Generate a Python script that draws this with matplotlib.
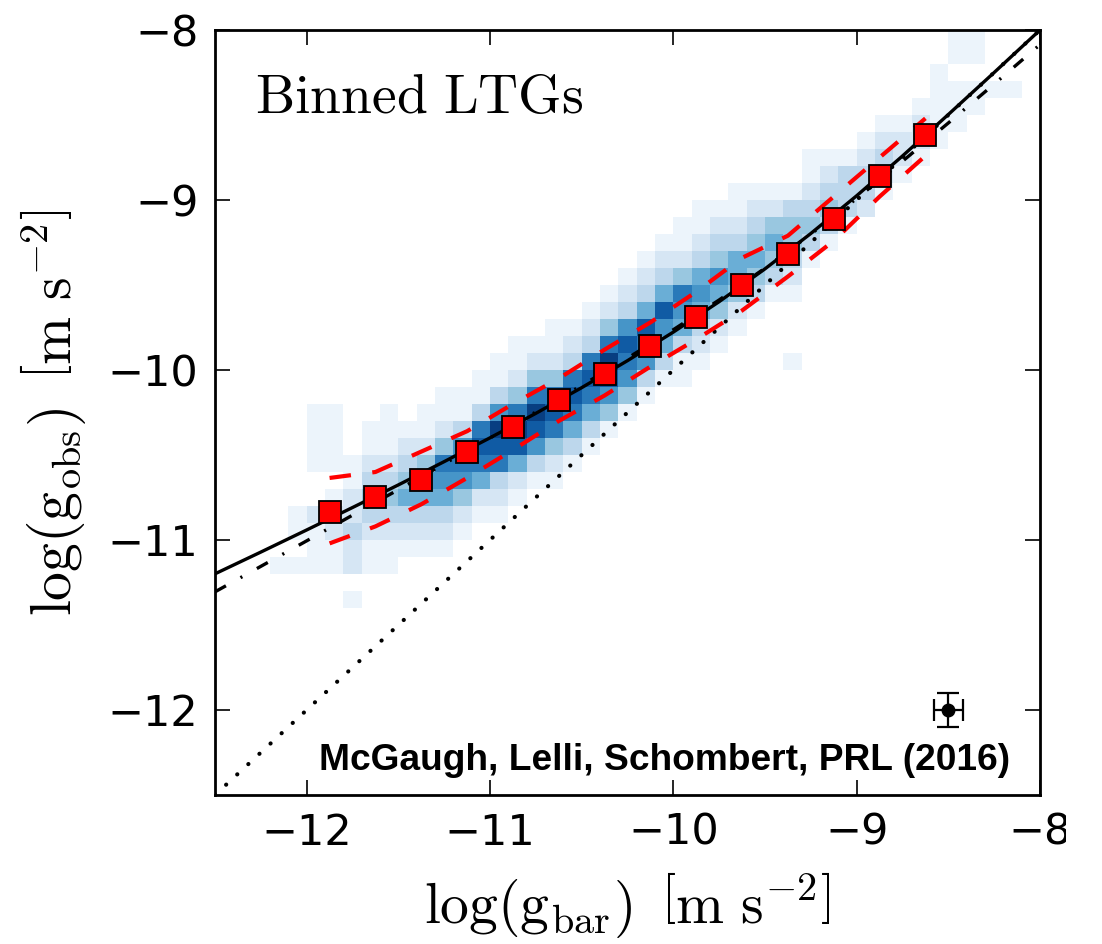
import numpy as np
import matplotlib
matplotlib.use('Agg')
import matplotlib.pyplot as plt
from matplotlib.patches import Rectangle

plt.rcParams['mathtext.fontset'] = 'cm'
plt.rcParams['font.family'] = ['DejaVu Sans']
plt.rcParams['lines.scale_dashes'] = False

# ---------------- data ----------------
bin_x = [-11.875, -11.625, -11.375, -11.125, -10.875, -10.625, -10.375,
         -10.125, -9.875, -9.625, -9.375, -9.125, -8.875, -8.625]
bin_mean = [-10.835, -10.747, -10.647, -10.482, -10.335, -10.176, -10.024,
            -9.859, -9.688, -9.500, -9.318, -9.112, -8.859, -8.618]
bin_upper = [-10.635, -10.60, -10.48, -10.36, -10.20, -10.05, -9.88,
             -9.72, -9.54, -9.34, -9.21, -8.98, -8.75, -8.52]
bin_lower = [-11.02, -10.92, -10.79, -10.635, -10.47, -10.30, -10.15,
             -9.98, -9.82, -9.65, -9.45, -9.24, -8.98, -8.74]

curve_x = [-12.5, -12.25, -12.0, -11.75, -11.5, -11.25, -11.0, -10.75, -10.5,
           -10.25, -10.0, -9.75, -9.5, -9.25, -9.0, -8.75, -8.5, -8.25, -8.0]
curve_solid = [-11.199, -11.071, -10.941, -10.809, -10.676, -10.539, -10.399,
               -10.255, -10.104, -9.945, -9.777, -9.598, -9.405, -9.197,
               -8.975, -8.741, -8.497, -8.250, -8.000]
curve_dashdot = [-11.305, -11.155, -11.005, -10.854, -10.704, -10.552, -10.400,
                 -10.247, -10.091, -9.930, -9.763, -9.588, -9.401, -9.201,
                 -8.991, -8.772, -8.547, -8.318, -8.086]
unity_x = [-12.5, -8.0]

err_x, err_y = -8.5, -12.0
err_dx, err_dy = 0.08, 0.10

# 2D histogram: per column (x bin start), lowest y bin start, levels bottom->top
hist_cols = {
    -12.2: (-11.2, "1"),
    -12.1: (-11.2, "1011"),
    -12.0: (-11.2, "1112001111"),
    -11.9: (-11.2, "1122101111"),
    -11.8: (-11.4, "102232211"),
    -11.7: (-11.2, "112343211"),
    -11.6: (-11.2, "1123432111"),
    -11.5: (-11.1, "12354321"),
    -11.4: (-11.1, "123564211"),
    -11.3: (-11.1, "1235674211"),
    -11.2: (-11.0, "124676311"),
    -11.1: (-10.9, "125787311"),
    -11.0: (-10.9, "1237896311"),
    -10.9: (-10.8, "1258974211"),
    -10.8: (-10.7, "136897421"),
    -10.7: (-10.7, "1247874211"),
    -10.6: (-10.6, "135787321"),
    -10.5: (-10.5, "135787321"),
    -10.4: (-10.4, "146897421"),
    -10.3: (-10.3, "146786321"),
    -10.2: (-10.2, "136785321"),
    -10.1: (-10.1, "135685321"),
    -10.0: (-10.1, "1135674211"),
    -9.9: (-10.0, "1235653211"),
    -9.8: (-9.9, "124564321"),
    -9.7: (-9.8, "124553211"),
    -9.6: (-9.7, "13454321"),
    -9.5: (-9.6, "1345421"),
    -9.4: (-10.0, "10001234431"),
    -9.3: (-9.4, "1343211"),
    -9.2: (-9.3, "134321"),
    -9.1: (-9.2, "13331"),
    -9.0: (-9.1, "23321"),
    -8.9: (-9.0, "12321"),
    -8.8: (-8.9, "1221"),
    -8.7: (-8.8, "1221"),
    -8.6: (-8.7, "11111"),
    -8.5: (-8.6, "111011"),
    -8.4: (-8.5, "11011"),
    -8.3: (-8.4, "1"),
    -8.2: (-8.4, "1"),
}
hist_step = 0.1

# ---------------- figure ----------------
W, H = 1102, 944
fig = plt.figure(figsize=(W / 100, H / 100), dpi=100)
ax = fig.add_axes([215 / W, 1 - 795 / H, 825 / W, 765 / H])

# build histogram grid
xe = np.round(np.arange(-12.5, -8.0 + 1e-9, hist_step), 2)
ye = np.round(np.arange(-12.5, -8.0 + 1e-9, hist_step), 2)
grid = np.zeros((len(ye) - 1, len(xe) - 1))
for xs, (ys, levels) in hist_cols.items():
    ix = int(round((xs - xe[0]) / hist_step))
    iy0 = int(round((ys - ye[0]) / hist_step))
    for k, ch in enumerate(levels):
        grid[iy0 + k, ix] = int(ch)
grid = np.ma.masked_where(grid <= 0, grid)
ax.pcolormesh(xe, ye, grid, cmap='Blues', vmin=0.5, vmax=9.5,
              edgecolors='none', zorder=1)

# lines
ax.plot(unity_x, unity_x, color='black', lw=3.0, solid_capstyle='round',
        dash_capstyle='round', linestyle=(0, (0.1, 10.8)), zorder=2)
ax.plot(curve_x, curve_dashdot, color='black', lw=2.4,
        linestyle=(0, (9, 12, 1.5, 12)), zorder=2)
ax.plot(curve_x, curve_solid, color='black', lw=2.4, zorder=3)
ax.plot(bin_x, bin_upper, color='red', lw=3.0, linestyle=(0, (15.5, 15.5)), zorder=3)
ax.plot(bin_x, bin_lower, color='red', lw=3.0, linestyle=(0, (15.5, 15.5)), zorder=3)
ax.plot(bin_x, bin_mean, 's', mfc='red', mec='black', ms=16.5, mew=1.3, zorder=5)

# error bar
ax.errorbar([err_x], [err_y], xerr=[err_dx], yerr=[err_dy], fmt='o', color='black',
            ms=9, elinewidth=1.6, capsize=8, capthick=1.6, zorder=5)

ax.set_xlim(-12.5, -8.0)
ax.set_ylim(-12.5, -8.0)
ax.set_xticks([-12, -11, -10, -9, -8])
ax.set_yticks([-12, -11, -10, -9, -8])
ax.tick_params(direction='in', length=11, width=1.2, top=True, right=True,
               labelsize=31, pad=12)
for s in ax.spines.values():
    s.set_linewidth(2.0)

ax.set_xlabel(r'$\log(\mathrm{g_{bar}})\ \,\left[\mathrm{m\ s^{-2}}\right]$', fontsize=41.5, labelpad=12)
ax.set_ylabel(r'$\log(\mathrm{g_{obs}})\ \,\left[\mathrm{m\ s^{-2}}\right]$', fontsize=41.5, labelpad=14)

ax.text(0.0485, 0.8915, r'$\mathrm{Binned\ LTGs}$', transform=ax.transAxes,
        fontsize=40, ha='left', va='baseline')
ax.text(0.9636, 0.033, 'McGaugh, Lelli, Schombert, PRL (2016)', transform=ax.transAxes,
        fontsize=26.7, fontweight='bold', family='Liberation Sans', ha='right', va='baseline')

# right edge of the original image is cropped
fig.patches.append(Rectangle((1066 / W, 0), 1 - 1066 / W, 140 / H, transform=fig.transFigure,
                             facecolor='white', edgecolor='none', zorder=20))

fig.savefig('out.png', dpi=100)
